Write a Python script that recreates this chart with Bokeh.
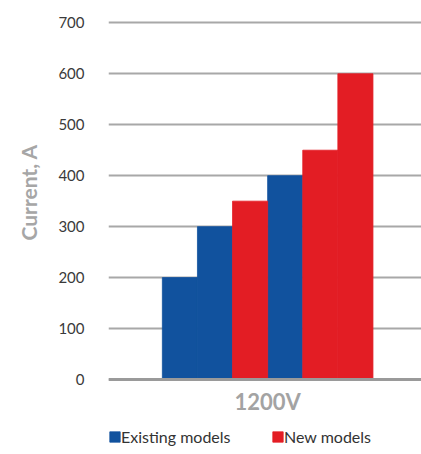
from bokeh.plotting import figure
from bokeh.models import Range1d, FixedTicker, Legend, LegendItem, ColumnDataSource, Span, Label, Title
from bokeh.embed import file_html
from bokeh.resources import INLINE

# ---- data ----
group_label = "1200V"
y_title = "Current, A"
series_names = ["Existing models", "New models"]
bar_series = ["Existing models", "Existing models", "New models",
              "Existing models", "New models", "New models"]
current = [200, 300, 350, 400, 450, 600]
y_ticks = [0, 100, 200, 300, 400, 500, 600, 700]

colors = {"Existing models": "#11529E", "New models": "#E31D24"}

positions = list(range(len(current)))
group_center = (positions[0] + positions[-1]) / 2

p = figure(width=421, height=454, output_backend="svg", toolbar_location=None,
           x_range=Range1d(-2.034, 6.883), y_range=Range1d(-147.2, 706.5),
           x_axis_type=None,
           min_border_left=108, min_border_right=0, min_border_top=19,
           min_border_bottom=0)
p.outline_line_color = None
p.background_fill_color = "white"
p.border_fill_color = "white"

renderers = {}
for s in series_names:
    xs = [x for x, b in zip(positions, bar_series) if b == s]
    ys = [v for v, b in zip(current, bar_series) if b == s]
    src = ColumnDataSource(dict(x=xs, top=ys))
    renderers[s] = p.vbar(x="x", top="top", width=1.0, bottom=0, source=src,
                          fill_color=colors[s], line_color=colors[s], line_width=0.8)

# y axis
p.yaxis.ticker = FixedTicker(ticks=y_ticks)
p.yaxis.axis_line_color = None
p.yaxis.major_tick_line_color = None
p.yaxis.minor_tick_line_color = None
p.yaxis.major_label_standoff = 18
p.yaxis.major_label_text_font = "Lato"
p.yaxis.major_label_text_font_size = "15px"
p.yaxis.major_label_text_color = "#3a3a3a"
p.yaxis.major_label_text_baseline = "alphabetic"

# y title beside the value axis
p.add_layout(Title(text=y_title, align="left", offset=214, standoff=26,
                   vertical_align="top", text_font="Lato", text_font_style="bold",
                   text_font_size="21px", text_color="#a6a6a6"), "left")

p.xgrid.grid_line_color = None
p.ygrid.grid_line_color = "#a8a8a8"
p.ygrid.grid_line_width = 2

# baseline (category axis line)
p.add_layout(Span(location=0, dimension="width", line_color="#9a9a9a", line_width=3))

# category label
p.add_layout(Label(x=group_center, y=-43, text=group_label, text_align="center",
                   text_baseline="middle", text_font="Lato", text_font_style="bold",
                   text_font_size="22px", text_color="#a3a3a3"))

legend_x = [0, 163]
for s, lx in zip(series_names, legend_x):
    lg = Legend(items=[LegendItem(label=s, renderers=[renderers[s]])],
                location=(lx, 8), orientation="horizontal",
                glyph_width=13, glyph_height=13, label_standoff=0,
                label_height=13, padding=0, margin=0, spacing=0,
                label_text_font="Lato", label_text_font_size="16px",
                label_text_color="#333333",
                background_fill_alpha=0, border_line_alpha=0)
    p.add_layout(lg)

open("out.html", "w").write(file_html(p, INLINE))
